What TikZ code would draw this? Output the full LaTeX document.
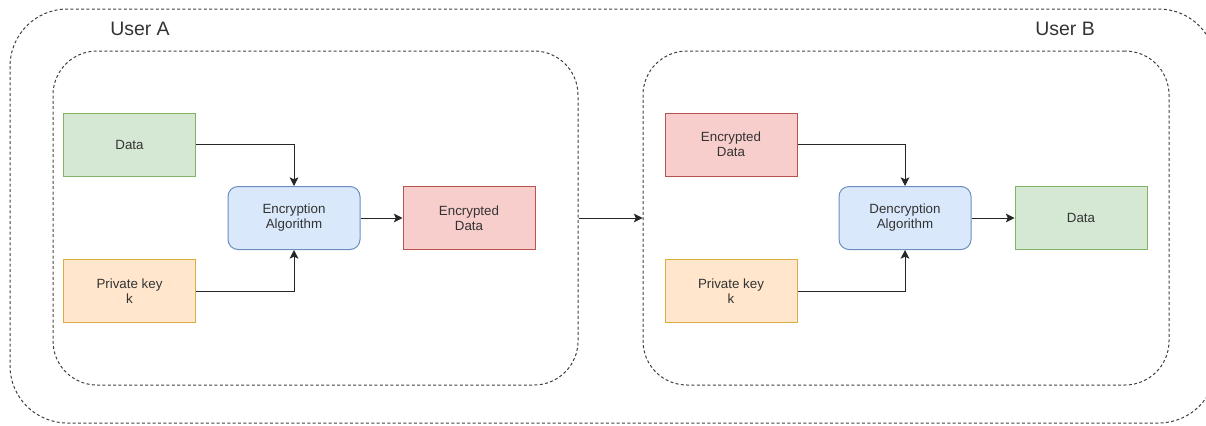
\documentclass[tikz,border=0pt]{standalone}
\usepackage{fontspec}
\setmainfont{Liberation Sans}
\usetikzlibrary{arrows.meta}

\definecolor{txt}{HTML}{333333}
\definecolor{greenfill}{HTML}{D5E8D4}
\definecolor{greenline}{HTML}{82B366}
\definecolor{redfill}{HTML}{F8CECC}
\definecolor{redline}{HTML}{B85450}
\definecolor{bluefill}{HTML}{DAE8FC}
\definecolor{blueline}{HTML}{6C8EBF}
\definecolor{orangefill}{HTML}{FFE6CC}
\definecolor{orangeline}{HTML}{D9AE3E}

\tikzset{
  box/.style={draw, line width=0.75pt, minimum width=99pt, minimum height=47.25pt,
    align=center, text=txt, font=\fontsize{10}{11.2}\selectfont},
  datanode/.style={box, fill=greenfill, draw=greenline},
  cipher/.style={box, fill=redfill, draw=redline},
  keynode/.style={box, fill=orangefill, draw=orangeline},
  algo/.style={box, fill=bluefill, draw=blueline, rounded corners=7.5pt},
  group/.style={draw=black!75, line width=0.75pt, dash pattern=on 2.25pt off 1.75pt,
    rounded corners=33pt, minimum height=250.5pt},
  flow/.style={draw=black!85, line width=0.75pt, -{Stealth[length=6.5pt,width=6.5pt,inset=1.5pt]}},
  usertitle/.style={text=txt, font=\fontsize{14.6}{16}\selectfont}
}

\begin{document}
\begin{tikzpicture}[x=0.75pt, y=-0.75pt]
  \useasboundingbox (0,0) rectangle (1206,425);
  \clip (0,0) rectangle (1206,425);

  % outer frame spanning both users (its right side runs past the page edge)
  \draw[draw=black!75, line width=0.75pt, dash pattern=on 2.25pt off 1.75pt,
        rounded corners=43pt] (10,9) rectangle (1216,423);

  \node[usertitle] (ua) at (140,29) {User A};
  \node[usertitle] (ub) at (1065,29) {User B};

  % user groups
  \node[group, minimum width=393.75pt] (ga) at (315.5,218) {};
  \node[group, minimum width=394.5pt] (gb) at (906,218) {};

  % User A: encryption
  \node[datanode] (dataA) at (129.5,144.5) {Data};
  \node[keynode]  (keyA)  at (129.5,291) {Private key\\k};
  \node[algo]     (enc)   at (294,218) {Encryption\\Algorithm};
  \node[cipher]   (ctA)   at (469,218) {Encrypted\\Data};

  % User B: decryption
  \node[cipher]   (ctB)   at (731,144.5) {Encrypted\\Data};
  \node[keynode]  (keyB)  at (731,291) {Private key\\k};
  \node[algo]     (dec)   at (905,218) {Dencryption\\Algorithm};
  \node[datanode] (dataB) at (1081,218) {Data};

  % connectors
  \draw[flow] (dataA.east) -| (enc.north);
  \draw[flow] (keyA.east) -| (enc.south);
  \draw[flow] (enc.east) -- (ctA.west);
  \draw[flow] (ga.east) -- (gb.west);
  \draw[flow] (ctB.east) -| (dec.north);
  \draw[flow] (keyB.east) -| (dec.south);
  \draw[flow] (dec.east) -- (dataB.west);
\end{tikzpicture}
\end{document}
